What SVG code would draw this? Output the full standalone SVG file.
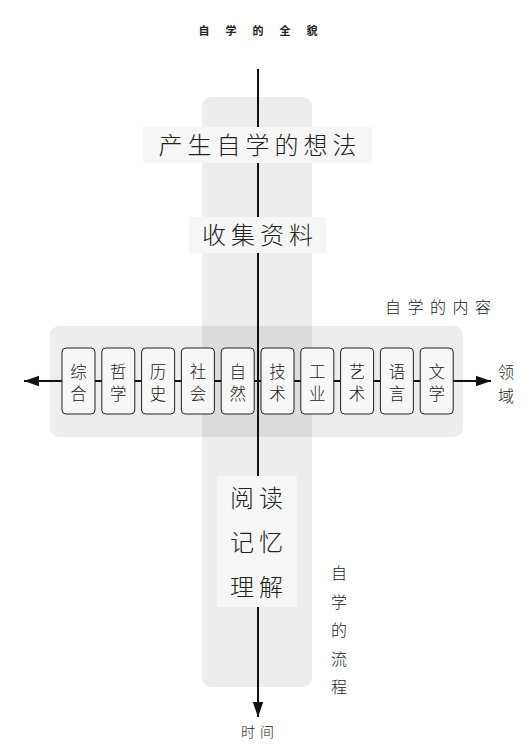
<svg xmlns="http://www.w3.org/2000/svg" width="528" height="755" viewBox="0 0 528 755">
<defs>
<marker id="arrb" viewBox="0 0 10 10" refX="10" refY="5" markerWidth="15" markerHeight="15" markerUnits="userSpaceOnUse" orient="auto">
<path d="M0,1.5 L10,5 L0,8.5 z" fill="#111"/>
</marker>
</defs>
<style>
text{font-family:"Noto Sans CJK SC","Noto Sans CJK JP",sans-serif;fill:#222;}
.band{fill:#000;fill-opacity:0.07;}
.big{font-size:24px;letter-spacing:5px;text-anchor:middle;font-weight:300;}
.box{fill:#f6f6f6;}
.node rect{fill:#f7f7f7;stroke:#222;stroke-width:1;}
.node text{font-size:16.5px;text-anchor:middle;font-weight:300;writing-mode:vertical-rl;letter-spacing:5px;}
.lbl{font-size:16px;font-weight:300;}
.ln{stroke:#111;stroke-width:2;fill:none;}
</style>
<rect class="band" x="202" y="97" width="110" height="590" rx="9"/>
<rect class="band" x="50" y="326" width="413" height="111" rx="9"/>
<text x="266" y="35" style="font-size:11px;font-weight:bold;letter-spacing:16px;text-anchor:middle">自学的全貌</text>
<g id="connectors">
<line class="ln" x1="258" y1="69" x2="258" y2="717" marker-end="url(#arrb)"/>
<line class="ln" x1="62" y1="381" x2="24" y2="381" marker-end="url(#arrb)"/>
<line class="ln" x1="453" y1="381" x2="491" y2="381" marker-end="url(#arrb)"/>
<line class="ln" x1="95" y1="381" x2="453" y2="381"/>
</g>
<g id="idea">
<rect class="box" x="143" y="127" width="229" height="36"/>
<text class="big" x="260" y="154">产生自学的想法</text>
</g>
<g id="collect">
<rect class="box" x="189" y="217" width="137" height="36"/>
<text class="big" x="260" y="244">收集资料</text>
</g>
<g id="content-label"><text class="lbl" x="385" y="313" style="letter-spacing:6.5px">自学的内容</text></g>
<g id="n1" class="node"><rect x="62" y="348" width="33" height="66" rx="4"/><text x="78.5" y="385">综合</text></g>
<g id="n2" class="node"><rect x="101.8" y="348" width="33" height="66" rx="4"/><text x="118.3" y="385">哲学</text></g>
<g id="n3" class="node"><rect x="141.6" y="348" width="33" height="66" rx="4"/><text x="158.1" y="385">历史</text></g>
<g id="n4" class="node"><rect x="181.4" y="348" width="33" height="66" rx="4"/><text x="197.9" y="385">社会</text></g>
<g id="n5" class="node"><rect x="221.2" y="348" width="33" height="66" rx="4"/><text x="237.7" y="385">自然</text></g>
<g id="n6" class="node"><rect x="261" y="348" width="33" height="66" rx="4"/><text x="277.5" y="385">技术</text></g>
<g id="n7" class="node"><rect x="300.8" y="348" width="33" height="66" rx="4"/><text x="317.3" y="385">工业</text></g>
<g id="n8" class="node"><rect x="340.6" y="348" width="33" height="66" rx="4"/><text x="357.1" y="385">艺术</text></g>
<g id="n9" class="node"><rect x="380.4" y="348" width="33" height="66" rx="4"/><text x="396.9" y="385">语言</text></g>
<g id="n10" class="node"><rect x="420.2" y="348" width="33" height="66" rx="4"/><text x="436.7" y="385">文学</text></g>
<g id="field"><text class="lbl" x="506" y="378" text-anchor="middle">领</text><text class="lbl" x="506" y="402" text-anchor="middle">域</text></g>
<g id="read">
<rect class="box" x="217" y="476" width="80" height="131"/>
<text class="big" x="259" y="507">阅读</text>
<text class="big" x="259" y="551">记忆</text>
<text class="big" x="259" y="596">理解</text>
</g>
<g id="flow-label" class="lbl" style="text-anchor:middle">
<text x="339" y="579">自</text><text x="339" y="608">学</text><text x="339" y="636">的</text><text x="339" y="665">流</text><text x="339" y="693">程</text>
</g>
<g id="time"><text x="260" y="737" style="font-size:14px;letter-spacing:5px;text-anchor:middle;font-weight:300">时间</text></g>
</svg>
